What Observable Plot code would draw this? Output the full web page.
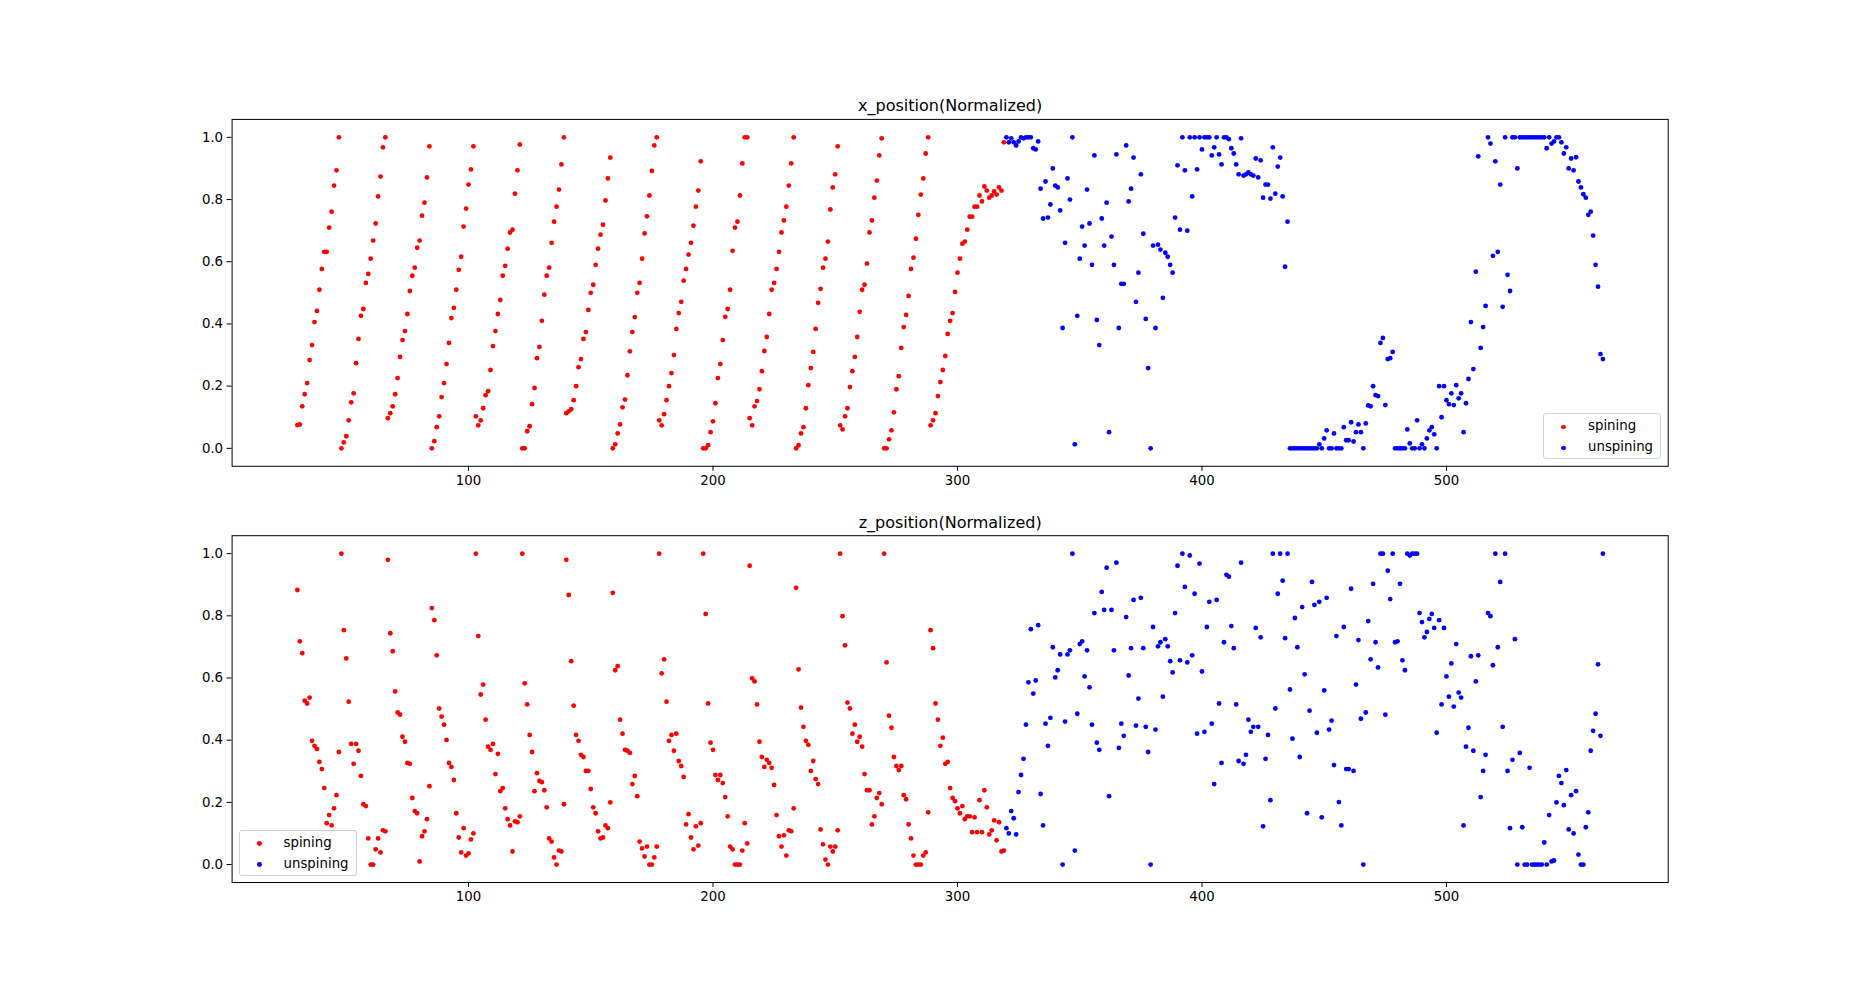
<!DOCTYPE html>
<html><head><meta charset="utf-8">
<script src="https://cdn.jsdelivr.net/npm/d3@7"></script>
<script src="https://cdn.jsdelivr.net/npm/@observablehq/plot@0.6"></script>
<style>
body{margin:0;background:#fff;font-family:"DejaVu Sans",sans-serif;}
#fig{position:relative;width:1853px;height:991px;background:#fff;overflow:hidden;}
.panel{position:absolute;left:0;}
.legend{position:absolute;width:116px;height:44px;border:1px solid #d0d0d0;border-radius:3px;background:rgba(255,255,255,0.8);font-family:"DejaVu Sans",sans-serif;font-size:13.33px;color:#000;}
.legend .mk{position:absolute;width:4.8px;height:4.8px;border-radius:50%;left:17.3px;}
.legend .lb{position:absolute;left:44px;line-height:16px;white-space:nowrap;}
</style></head><body><div id="fig"></div>
<script>
// frame index where each series starts (one value per consecutive frame)
const spinStart = 30;
const unspinStart = 320;
const seriesNames = ["spining", "unspining"];
const xTicks = [100, 200, 300, 400, 500];
const yTicks = [0, 0.2, 0.4, 0.6, 0.8, 1.0];
const titles = ["x_position(Normalized)", "z_position(Normalized)"];

const xSpin = [
0.075,0.077,0.135,0.174,0.21,0.284,0.332,0.406,0.442,0.51,
0.577,0.632,0.632,0.71,0.761,0.845,0.894,1.0,0,0.019,
0.039,0.09,0.148,0.177,0.274,0.352,0.426,0.448,0.532,0.561,
0.61,0.668,0.723,0.81,0.874,0.968,1.0,0.097,0.113,0.135,
0.174,0.226,0.294,0.348,0.377,0.432,0.506,0.555,0.581,0.645,
0.668,0.748,0.79,0.871,0.971,0,0.023,0.068,0.103,0.165,
0.21,0.271,0.339,0.419,0.452,0.51,0.574,0.616,0.713,0.771,
0.848,0.897,0.971,0.103,0.074,0.09,0.129,0.171,0.184,0.252,
0.329,0.377,0.432,0.477,0.555,0.587,0.642,0.694,0.703,0.819,
0.894,0.977,0,0,0.055,0.071,0.142,0.194,0.29,0.326,
0.41,0.494,0.555,0.581,0.661,0.729,0.777,0.832,0.913,1.0,
0.113,0.119,0.126,0.155,0.2,0.261,0.287,0.352,0.374,0.445,
0.5,0.526,0.59,0.642,0.687,0.719,0.797,0.868,0.935,0,
0.013,0.048,0.077,0.132,0.157,0.235,0.312,0.374,0.422,0.5,
0.532,0.61,0.691,0.746,0.813,0.892,0.974,1.0,0.09,0.074,
0.11,0.155,0.2,0.242,0.3,0.384,0.435,0.471,0.539,0.577,
0.623,0.661,0.716,0.777,0.829,0.923,0,0,0.01,0.052,
0.087,0.145,0.226,0.271,0.348,0.423,0.448,0.51,0.635,0.71,
0.729,0.813,0.916,1.0,1.0,0.097,0.074,0.135,0.152,0.19,
0.248,0.313,0.358,0.432,0.51,0.532,0.577,0.632,0.694,0.733,
0.777,0.845,0.916,1.0,0,0.01,0.048,0.068,0.129,0.203,
0.258,0.31,0.384,0.468,0.513,0.581,0.61,0.665,0.768,0.839,
0.881,0.971,0.074,0.061,0.103,0.129,0.197,0.248,0.294,0.358,
0.439,0.51,0.526,0.594,0.694,0.733,0.806,0.861,0.942,0.997,
0,0,0.029,0.058,0.116,0.19,0.232,0.323,0.39,0.429,
0.49,0.577,0.613,0.674,0.751,0.816,0.868,0.948,1.0,0.074,
0.09,0.113,0.168,0.213,0.252,0.297,0.368,0.41,0.435,0.503,
0.565,0.61,0.658,0.665,0.703,0.745,0.745,0.777,0.777,0.813,
0.794,0.842,0.829,0.806,0.813,0.826,0.816,0.839,0.829,0.984
];
const xUnspin = [
1.0,0.984,0.997,0.984,0.974,0.987,1.0,0.997,1.0,1.0,
1.0,0.965,0.961,0.987,0.835,0.739,0.858,0.742,0.784,0.9,
0.845,0.839,0.765,0.387,0.661,0.868,0.8,1.0,0.013,0.426,
0.61,0.713,0.652,0.832,0.723,0.59,0.942,0.413,0.332,0.739,
0.652,0.79,0.052,0.681,0.59,0.945,0.387,0.529,0.529,0.974,
0.794,0.835,0.935,0.471,0.565,0.881,0.69,0.416,0.258,0,
0.652,0.387,0.655,0.639,0.484,0.629,0.616,0.59,0.565,0.742,
0.91,0.703,1.0,0.894,0.7,1.0,0.81,1.0,0.897,1.0,
0.961,1.0,1.0,1.0,0.942,0.968,1.0,0.945,0.913,1.0,
1.0,0.994,0.965,0.948,0.913,0.881,0.997,0.877,0.881,0.887,
0.881,0.877,0.932,0.871,0.926,0.806,0.848,0.848,0.803,0.968,
0.819,0.906,0.935,0.81,0.584,0.729,0,0,0,0,
0,0,0,0,0,0,0,0,0.013,0,
0.032,0.058,0,0,0.048,0,0,0,0.068,0.026,
0.026,0.084,0.022,0.052,0.077,0.052,0,0.08,0.138,0.135,
0.2,0.171,0.168,0.339,0.355,0.139,0.287,0.29,0.31,0,
0,0,0,0,0.061,0.016,0,0,0.09,0,
0.013,0,0.032,0.058,0.068,0.045,0,0.2,0.1,0.2,
0.155,0.142,0.177,0.139,0.203,0.161,0.177,0.052,0.145,0.223,
0.406,0.255,0.568,0.939,0.323,0.39,0.458,1.0,0.98,0.619,
0.923,0.632,0.848,0.455,1.0,0.558,0.506,1.0,1.0,0.9,
1,1,1,1,1,1,1,1,1,1,
1.0,0.965,1.0,0.98,0.987,1.0,1.0,0.984,0.948,0.968,
0.9,0.932,0.894,0.936,0.858,0.839,0.817,0.806,0.751,0.761,
0.684,0.59,0.52,0.303,0.287
];
const zSpin = [
0.883,0.718,0.68,0.527,0.518,0.537,0.398,0.382,0.372,0.33,
0.307,0.246,0.133,0.159,0.126,0.181,0.223,0.362,1.0,0.754,
0.663,0.524,0.388,0.324,0.388,0.366,0.285,0.194,0.188,0.084,
0,0,0.049,0.084,0.039,0.11,0.107,0.98,0.744,0.686,
0.557,0.489,0.482,0.411,0.395,0.327,0.324,0.214,0.172,0.165,
0.01,0.091,0.107,0.146,0.252,0.825,0.786,0.673,0.502,0.476,
0.45,0.401,0.327,0.314,0.272,0.165,0.087,0.039,0.117,0.029,
0.036,0.081,0.1,1.0,0.735,0.547,0.579,0.466,0.379,0.369,
0.388,0.291,0.356,0.236,0.246,0.181,0.146,0.126,0.042,0.139,
0.136,0.155,1.0,0.583,0.515,0.417,0.362,0.236,0.294,0.269,
0.265,0.239,0.184,0.084,0.074,0.023,0,0.045,0.042,0.194,
0.98,0.867,0.654,0.511,0.417,0.398,0.353,0.346,0.301,0.301,
0.243,0.184,0.165,0.107,0.084,0.087,0.126,0.117,0.2,0.874,
0.625,0.638,0.466,0.421,0.369,0.366,0.359,0.259,0.285,0.22,
0.074,0.052,0.026,0.058,0,0,0.023,0.058,1.0,0.615,
0.66,0.524,0.398,0.417,0.366,0.421,0.333,0.317,0.282,0.129,
0.162,0.087,0.049,0.123,0.061,0.133,1.0,0.806,0.518,0.392,
0.369,0.288,0.272,0.288,0.262,0.217,0.155,0.058,0.049,0,
0,0,0.045,0.133,0.068,0.961,0.599,0.589,0.515,0.395,
0.346,0.314,0.337,0.327,0.311,0.256,0.159,0.091,0.058,0.094,
0.029,0.11,0.107,0.181,0.89,0.628,0.505,0.443,0.398,0.385,
0.301,0.333,0.275,0.259,0.113,0.065,0.016,0,0.058,0.042,
0.058,0.11,1.0,0.799,0.705,0.521,0.502,0.421,0.45,0.395,
0.411,0.379,0.291,0.239,0.239,0.129,0.155,0.214,0.23,0.194,
1.0,0.65,0.479,0.44,0.346,0.317,0.304,0.317,0.223,0.21,
0.129,0.084,0.029,0,0,0,0.029,0.039,0.168,0.754,
0.696,0.518,0.466,0.382,0.408,0.324,0.33,0.246,0.214,0.204,
0.181,0.165,0.188,0.146,0.155,0.155,0.104,0.152,0.104,0.207,
0.104,0.239,0.184,0.097,0.11,0.142,0.078,0.136,0.042,0.045
];
const zUnspin = [
0.117,0.1,0.172,0.149,0.097,0.233,0.288,0.34,0.45,0.586,
0.757,0.55,0.592,0.77,0.227,0.126,0.453,0.382,0.472,0.699,
0.602,0.625,0.676,0,0.46,0.676,0.689,1.0,0.045,0.485,
0.709,0.718,0.605,0.689,0.57,0.45,0.809,0.392,0.369,0.877,
0.819,0.955,0.22,0.819,0.689,0.971,0.375,0.453,0.414,0.796,
0.608,0.696,0.851,0.447,0.534,0.858,0.696,0.443,0.362,0,
0.764,0.434,0.702,0.715,0.54,0.725,0.702,0.654,0.618,0.809,
0.961,0.657,1.0,0.893,0.65,0.994,0.673,0.871,0.421,0.968,
0.621,0.427,0.764,0.845,0.453,0.259,0.851,0.518,0.327,0.715,
0.932,0.926,0.767,0.696,0.515,0.333,0.971,0.324,0.353,0.466,
0.427,0.443,0.761,0.443,0.731,0.123,0.34,0.417,0.207,1.0,
0.502,0.871,1.0,0.913,0.728,1.0,0.563,0.405,0.793,0.699,
0.346,0.828,0.612,0.165,0.495,0.909,0.835,0.424,0.845,0.152,
0.56,0.858,0.434,0.463,0.32,0.735,0.201,0.126,0.764,0.307,
0.307,0.887,0.301,0.579,0.722,0.469,0,0.489,0.783,0.66,
0.903,0.715,0.634,1.0,1.0,0.482,0.945,0.854,1.0,0.715,
0.718,0.903,0.657,0.625,1.0,0.994,1.0,1.0,1.0,0.809,
0.78,0.731,0.748,0.79,0.806,0.761,0.424,0.786,0.515,0.761,
0.605,0.54,0.647,0.508,0.709,0.553,0.537,0.126,0.379,0.44,
0.67,0.366,0.589,0.673,0.217,0.301,0.353,0.809,0.799,0.641,
1.0,0.699,0.909,0.443,1.0,0.301,0.117,0.337,0.725,0,
0.359,0.12,0,0,0.311,0,0,0,0,0,
0.071,0,0.159,0.01,0.013,0.2,0.285,0.262,0.191,0.304,
0.113,0.223,0.1,0.236,0.032,0,0,0.12,0.168,0.366,
0.43,0.485,0.644,0.414,1.0
];

const colors = ["#ff0000", "#0000ff"];
const toRows = (vals, start) => vals.map((v, i) => ({frame: start + i, value: v}));

const W = 1853;
const axLeft = 231.6, axRight = 1667.7;

function panel(title, spin, unspin, svgTop, svgH, axTop, axBottom) {
  const chart = Plot.plot({
    width: W,
    height: svgH,
    marginLeft: axLeft,
    marginRight: W - axRight,
    marginTop: axTop - svgTop,
    marginBottom: svgTop + svgH - axBottom,
    style: {fontFamily: "DejaVu Sans, sans-serif", fontSize: "13.33px", color: "#000", background: "transparent"},
    x: {domain: [3.3, 590.7]},
    y: {domain: [-0.0577, 1.0577]},
    marks: [
      Plot.dot(toRows(spin, spinStart), {x: "frame", y: "value", r: 2.4, fill: colors[0]}),
      Plot.dot(toRows(unspin, unspinStart), {x: "frame", y: "value", r: 2.4, fill: colors[1]}),
      Plot.frame({stroke: "#000", strokeWidth: 1}),
      Plot.axisX({ticks: xTicks, tickSize: 5, tickPadding: 4, label: null, fontSize: 13.33, tickFormat: d => String(d)}),
      Plot.axisY({ticks: yTicks, tickSize: 5, tickPadding: 4, label: null, fontSize: 13.33, tickFormat: d3.format(".1f")}),
      Plot.text([title], {frameAnchor: "top", dy: -8, lineAnchor: "bottom", fontSize: 16, fill: "#000"})
    ]
  });
  chart.classList.add("panel");
  chart.style.top = svgTop + "px";
  chart.style.position = "absolute";
  return chart;
}

function legend(left, top) {
  const d = document.createElement("div");
  d.className = "legend";
  d.style.left = left + "px";
  d.style.top = top + "px";
  seriesNames.forEach((name, i) => {
    const m = document.createElement("div");
    m.className = "mk";
    m.style.background = colors[i];
    m.style.top = (10.6 + i * 21) + "px";
    d.appendChild(m);
    const t = document.createElement("div");
    t.className = "lb";
    t.style.top = (4 + i * 21) + "px";
    t.textContent = name;
    d.appendChild(t);
  });
  return d;
}

const fig = document.getElementById("fig");
fig.appendChild(panel(titles[0], xSpin, xUnspin, 0, 495, 118.9, 465.8));
fig.appendChild(panel(titles[1], zSpin, zUnspin, 495, 496, 535.2, 882));
fig.appendChild(legend(1543, 413));
fig.appendChild(legend(238.5, 829.5));
</script></body></html>
